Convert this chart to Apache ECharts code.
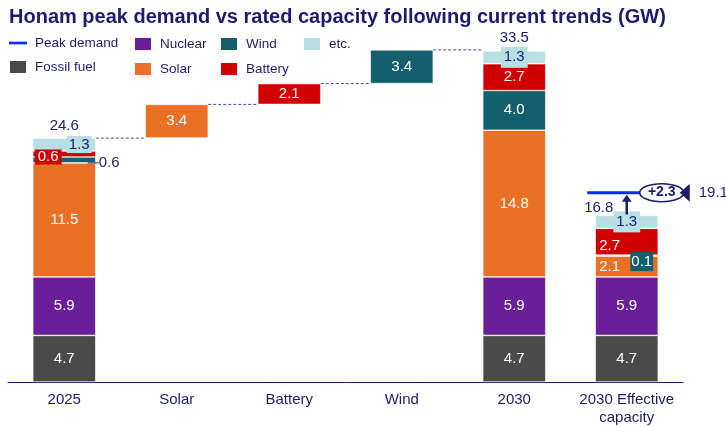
<!DOCTYPE html>
<html><head><meta charset="utf-8">
<script src="https://cdn.jsdelivr.net/npm/echarts@6/dist/echarts.min.js"></script>
<style>html,body{margin:0;padding:0;background:#fff}#c{width:726px;height:427px}</style>
</head><body><div id="c"></div>
<script>
const categories = ['2025', 'Solar', 'Battery', 'Wind', '2030', '2030 Effective\ncapacity'];
const fossil  = [4.7, '-', '-', '-', 4.7, 4.7];
const nuclear = [5.9, '-', '-', '-', 5.9, 5.9];
const solar   = [11.5, 3.4, '-', '-', 14.8, 2.1];
const wind    = [0.6, '-', '-', 3.4, 4.0, 0.1];
const battery = [0.6, '-', 2.1, '-', 2.7, 2.7];
const etc     = [1.3, '-', '-', '-', 1.3, 1.3];
const totals  = [24.6, null, null, null, 33.5, 16.8];
const peakDemand = 19.1;
const gapText = '+2.3';

const NAVY = '#1c1c6e';
const FONT = "'Liberation Sans', Arial, sans-serif";
const C = {fossil:'#4a4a4a', nuclear:'#6a1f9a', solar:'#e97024', wind:'#135f6c', battery:'#d00000', etc:'#b8dfe3', peak:'#0a2bff'};

const num = v => typeof v === 'number';
const groups = [fossil, nuclear, solar, wind, battery, etc];
// waterfall base for the step columns (1..3)
const base = categories.map(() => '-');
let running = totals[0];
for (let i = 1; i <= 3; i++) {
  base[i] = running;
  groups.forEach(g => { if (num(g[i])) running += g[i]; });
}

function mk(arr, overrides) {
  return arr.map((v, i) => {
    if (!num(v)) return '-';
    return overrides && overrides[i] ? {value: v, label: overrides[i]} : v;
  });
}
const LFS = 15;
const baseLabel = {show: true, color: '#fff', fontSize: LFS, fontFamily: FONT, formatter: p => Number(p.value).toFixed(1)};
const etcBox = {color: NAVY, backgroundColor: C.etc, padding: [3, 3]};

function barSeries(name, arr, color, overrides) {
  return {
    name, type: 'bar', stack: 'cap', barWidth: '56%', data: mk(arr, overrides),
    itemStyle: {color, borderColor: '#fff', borderWidth: 0.6},
    label: Object.assign({}, baseLabel), emphasis: {disabled: true}
  };
}

const series = [
  {name: 'base', type: 'bar', stack: 'cap', barWidth: '56%', data: base, itemStyle: {color: 'transparent'}, silent: true, label: {show: false}},
  barSeries('Fossil fuel', fossil, C.fossil),
  barSeries('Nuclear', nuclear, C.nuclear),
  barSeries('Solar', solar, C.solar, {5: {position: 'insideLeft', distance: 4}}),
  barSeries('Wind', wind, C.wind, {
    0: {position: 'right', distance: 3, color: NAVY, offset: [0, 3]},
    5: {position: 'inside', backgroundColor: C.wind, padding: [2, 1], offset: [15, 6]}
  }),
  barSeries('Battery', battery, C.battery, {
    0: {position: 'insideLeft', distance: 2, backgroundColor: C.battery, padding: [0, 3], offset: [0, 3]},
    5: {position: 'insideLeft', distance: 4, offset: [0, 4]}
  }),
  barSeries('etc.', etc, C.etc, {0: Object.assign({}, etcBox, {offset: [15, 0], padding: [1, 2]}), 4: etcBox, 5: etcBox}),
  {name: 'Peak demand', type: 'line', data: [], itemStyle: {color: C.peak}, lineStyle: {color: C.peak, width: 3}}
];

const legendText = {color: NAVY, fontSize: 13.5, fontFamily: FONT, padding: [0, 0, 0, 3]};
function legend(left, names) {
  return {left, top: 31, orient: 'vertical', itemGap: 9, itemWidth: 18, itemHeight: 14,
    textStyle: legendText, selectedMode: false,
    data: names.map(n => n === 'Peak demand' ? {name: n, icon: 'path://M0,0H20V3H0Z'} : {name: n, icon: 'rect'})};
}

const chart = echarts.init(document.getElementById('c'));
chart.setOption({
  animation: false,
  title: {text: 'Honam peak demand vs rated capacity following current trends (GW)', left: 4, top: 2,
    textStyle: {color: NAVY, fontSize: 20, fontWeight: 'bold', fontFamily: FONT}},
  legend: [legend(3, ['Peak demand', 'Fossil fuel']), legend(128, ['Nuclear', 'Solar']), legend(214, ['Wind', 'Battery']), legend(297, ['etc.'])],
  grid: {left: 8, right: 43, top: 35, bottom: 44},
  xAxis: {type: 'category', data: categories, axisTick: {show: false},
    axisLine: {lineStyle: {color: NAVY, width: 1}},
    axisLabel: {color: NAVY, fontSize: 15, fontFamily: FONT, margin: 9, lineHeight: 18, interval: 0}},
  yAxis: {type: 'value', min: 0, max: 35, show: false, splitLine: {show: false}},
  series
});

const P = (i, v) => chart.convertToPixel({xAxisIndex: 0, yAxisIndex: 0}, [i, v]);
const band = P(1, 0)[0] - P(0, 0)[0];
const hw = band * 0.56 / 2;
const dash = {stroke: '#4d4d8f', lineWidth: 1, lineDash: [3, 2]};
const g = [];
// connectors
const levels = [totals[0], base[2], base[3], totals[4]];
for (let k = 0; k < 4; k++) {
  const a = P(k, levels[k]), b = P(k + 1, levels[k]);
  g.push({type: 'line', shape: {x1: a[0] + hw, y1: a[1], x2: b[0] - hw, y2: b[1]}, style: dash, z: 1});
}
// totals
[[0, totals[0]], [4, totals[4]]].forEach(([i, v]) => {
  const p = P(i, v);
  g.push({type: 'text', x: p[0], y: p[1] - 12, style: {text: v.toFixed(1), fill: NAVY, fontSize: 15, fontFamily: FONT, align: 'center', verticalAlign: 'middle'}, z: 10});
});
// wind leader line at 2025
{
  const p = P(0, fossil[0] + nuclear[0] + solar[0] + wind[0] / 2);
  g.push({type: 'line', shape: {x1: p[0] + hw - 8, y1: p[1] + 3, x2: p[0] + hw + 3, y2: p[1] + 3}, style: {stroke: NAVY, lineWidth: 1}, z: 10});
}
// effective capacity annotations
{
  const top = P(5, totals[5]), pk = P(5, peakDemand);
  const xc = top[0];
  g.push({type: 'text', x: xc - 28, y: top[1] - 8, style: {text: totals[5].toFixed(1), fill: NAVY, fontSize: 15, fontFamily: FONT, align: 'center', verticalAlign: 'middle'}, z: 10});
  g.push({type: 'line', shape: {x1: xc - hw - 8, y1: pk[1], x2: xc + 30, y2: pk[1]}, style: {stroke: C.peak, lineWidth: 3}, z: 10});
  g.push({type: 'line', shape: {x1: xc, y1: top[1] - 1, x2: xc, y2: pk[1] + 8}, style: {stroke: NAVY, lineWidth: 2.5}, z: 11});
  g.push({type: 'polygon', shape: {points: [[xc - 5, pk[1] + 9], [xc + 5, pk[1] + 9], [xc, pk[1] + 2]]}, style: {fill: NAVY}, z: 11});
  g.push({type: 'ellipse', shape: {cx: xc + 35, cy: pk[1], rx: 22, ry: 9}, style: {fill: '#fff', stroke: NAVY, lineWidth: 1.5}, z: 12});
  g.push({type: 'text', x: xc + 35, y: pk[1], style: {text: gapText, fill: NAVY, fontSize: 14, fontWeight: 'bold', fontFamily: FONT, align: 'center', verticalAlign: 'middle'}, z: 13});
  g.push({type: 'polygon', shape: {points: [[xc + 53, pk[1]], [xc + 63, pk[1] - 9], [xc + 63, pk[1] + 9]]}, style: {fill: NAVY}, z: 12});
  g.push({type: 'text', x: xc + 72, y: pk[1], style: {text: peakDemand.toFixed(1), fill: NAVY, fontSize: 15, fontFamily: FONT, align: 'left', verticalAlign: 'middle'}, z: 10});
}
chart.setOption({graphic: g});
</script>
</body></html>
